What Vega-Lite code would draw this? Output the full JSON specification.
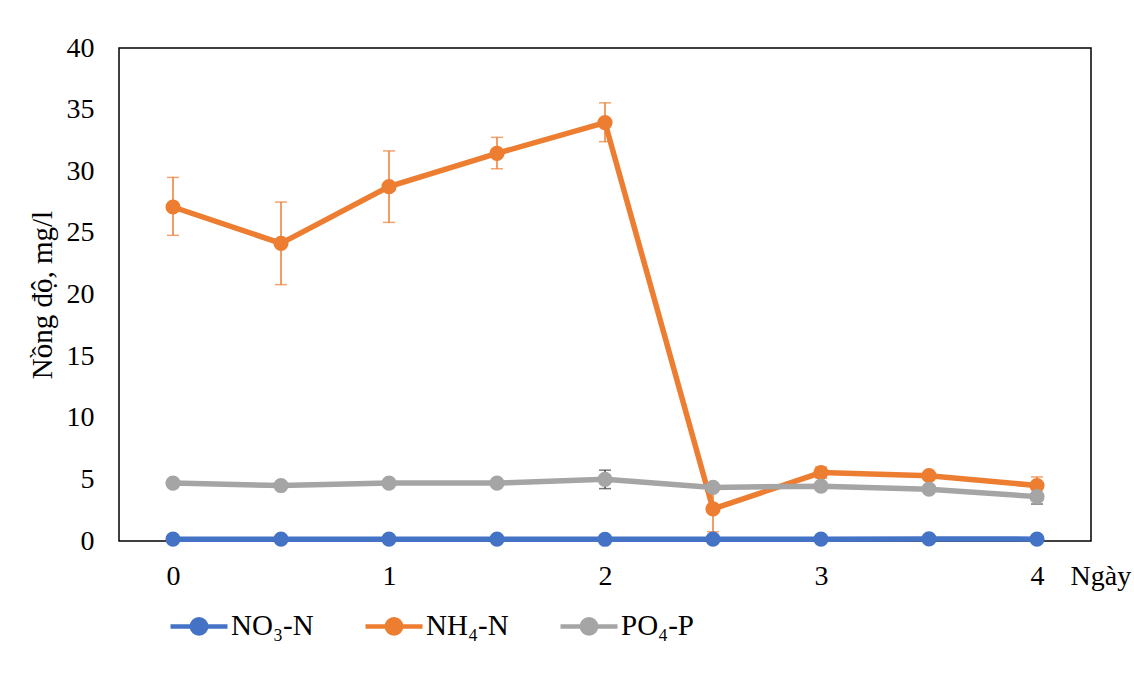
{
  "$schema": "https://vega.github.io/schema/vega-lite/v6.json",
  "width": 972,
  "height": 493,
  "autosize": {"type": "none"},
  "padding": {"left": 119, "top": 48, "right": 43, "bottom": 139},
  "background": "white",
  "config": {
    "view": {"stroke": "black", "strokeWidth": 1.5},
    "font": "Liberation Serif",
    "axis": {"labelFont": "Liberation Serif", "titleFont": "Liberation Serif", "labelColor": "black", "titleColor": "black", "grid": false, "ticks": false, "domain": false, "titleFontWeight": "normal"},
    "legend": {"labelFont": "Liberation Serif", "labelColor": "black"}
  },
  "data": {
    "values": [
      {"day": 0, "series": "NO₃-N", "value": 0.15, "lo": 0.15, "hi": 0.15},
      {"day": 0.5, "series": "NO₃-N", "value": 0.15, "lo": 0.15, "hi": 0.15},
      {"day": 1, "series": "NO₃-N", "value": 0.15, "lo": 0.15, "hi": 0.15},
      {"day": 1.5, "series": "NO₃-N", "value": 0.15, "lo": 0.15, "hi": 0.15},
      {"day": 2, "series": "NO₃-N", "value": 0.14, "lo": 0.14, "hi": 0.14},
      {"day": 2.5, "series": "NO₃-N", "value": 0.15, "lo": 0.15, "hi": 0.15},
      {"day": 3, "series": "NO₃-N", "value": 0.15, "lo": 0.15, "hi": 0.15},
      {"day": 3.5, "series": "NO₃-N", "value": 0.17, "lo": 0.17, "hi": 0.17},
      {"day": 4, "series": "NO₃-N", "value": 0.15, "lo": 0.15, "hi": 0.15},
      {"day": 0, "series": "NH₄-N", "value": 27.1, "lo": 24.8, "hi": 29.5},
      {"day": 0.5, "series": "NH₄-N", "value": 24.15, "lo": 20.8, "hi": 27.5},
      {"day": 1, "series": "NH₄-N", "value": 28.75, "lo": 25.85, "hi": 31.65},
      {"day": 1.5, "series": "NH₄-N", "value": 31.45, "lo": 30.2, "hi": 32.75},
      {"day": 2, "series": "NH₄-N", "value": 33.95, "lo": 32.4, "hi": 35.55},
      {"day": 2.5, "series": "NH₄-N", "value": 2.6, "lo": 0.75, "hi": 4.45},
      {"day": 3, "series": "NH₄-N", "value": 5.55, "lo": 5.1, "hi": 6.0},
      {"day": 3.5, "series": "NH₄-N", "value": 5.3, "lo": 5.1, "hi": 5.5},
      {"day": 4, "series": "NH₄-N", "value": 4.5, "lo": 3.8, "hi": 5.2},
      {"day": 0, "series": "PO₄-P", "value": 4.7, "lo": 4.6, "hi": 4.8},
      {"day": 0.5, "series": "PO₄-P", "value": 4.5, "lo": 4.2, "hi": 4.8},
      {"day": 1, "series": "PO₄-P", "value": 4.7, "lo": 4.6, "hi": 4.8},
      {"day": 1.5, "series": "PO₄-P", "value": 4.7, "lo": 4.6, "hi": 4.8},
      {"day": 2, "series": "PO₄-P", "value": 5.0, "lo": 4.25, "hi": 5.75},
      {"day": 2.5, "series": "PO₄-P", "value": 4.35, "lo": 4.25, "hi": 4.45},
      {"day": 3, "series": "PO₄-P", "value": 4.45, "lo": 4.15, "hi": 4.75},
      {"day": 3.5, "series": "PO₄-P", "value": 4.2, "lo": 4.1, "hi": 4.3},
      {"day": 4, "series": "PO₄-P", "value": 3.6, "lo": 3.0, "hi": 4.2}
    ]
  },
  "encoding": {
    "x": {
      "field": "day", "type": "quantitative",
      "scale": {"domain": [-0.25, 4.25], "nice": false, "zero": false},
      "axis": {"values": [0, 1, 2, 3, 4], "labelFontSize": 28, "labelPadding": 21, "format": "d",
        "title": "Ngày", "titleFontSize": 28, "titleX": 951, "titleY": 21, "titleAlign": "left", "titleBaseline": "top", "titleAnchor": "start"}
    }
  },
  "layer": [
    {
      "transform": [{"filter": "datum.series === 'NH₄-N'"}],
      "mark": {"type": "errorbar", "ticks": {"size": 12}, "thickness": 1.5, "color": "#ED7D31"},
      "encoding": {
        "y": {"field": "lo", "type": "quantitative", "scale": {"domain": [0, 40], "nice": false},
          "axis": {"values": [0, 5, 10, 15, 20, 25, 30, 35, 40], "labelFontSize": 28, "labelPadding": 25,
            "title": "Nồng độ, mg/l", "titleFontSize": 29, "titlePadding": 9}},
        "y2": {"field": "hi"}
      }
    },
    {
      "transform": [{"filter": "datum.series === 'PO₄-P'"}],
      "mark": {"type": "errorbar", "ticks": {"size": 12}, "thickness": 1.5, "color": "#404040"},
      "encoding": {
        "y": {"field": "lo", "type": "quantitative", "title": "Nồng độ, mg/l"},
        "y2": {"field": "hi"}
      }
    },
    {
      "mark": {"type": "line", "strokeWidth": 5.5, "point": {"filled": true, "size": 230}},
      "encoding": {
        "y": {
          "field": "value", "type": "quantitative",
          "scale": {"domain": [0, 40], "nice": false},
          "title": "Nồng độ, mg/l"
        },
        "color": {
          "field": "series", "type": "nominal",
          "scale": {"domain": ["NO₃-N", "NH₄-N", "PO₄-P"], "range": ["#4472C4", "#ED7D31", "#A5A5A5"]},
          "legend": {
            "title": null, "orient": "none", "direction": "horizontal",
            "legendX": 49, "legendY": 547, "padding": 0,
            "symbolType": "M-1,0L1,0M-0.25,0A0.25,0.25 0 1,0 0.25,0A0.25,0.25 0 1,0 -0.25,0Z",
            "symbolSize": 3249, "symbolStrokeWidth": 4.5,
            "labelFontSize": 29, "labelOffset": 1, "columnPadding": 42,
            "encode": {"symbols": {"update": {"fill": {"scale": "color", "field": "value"}, "stroke": {"scale": "color", "field": "value"}}}}
          }
        }
      }
    }
  ]
}
